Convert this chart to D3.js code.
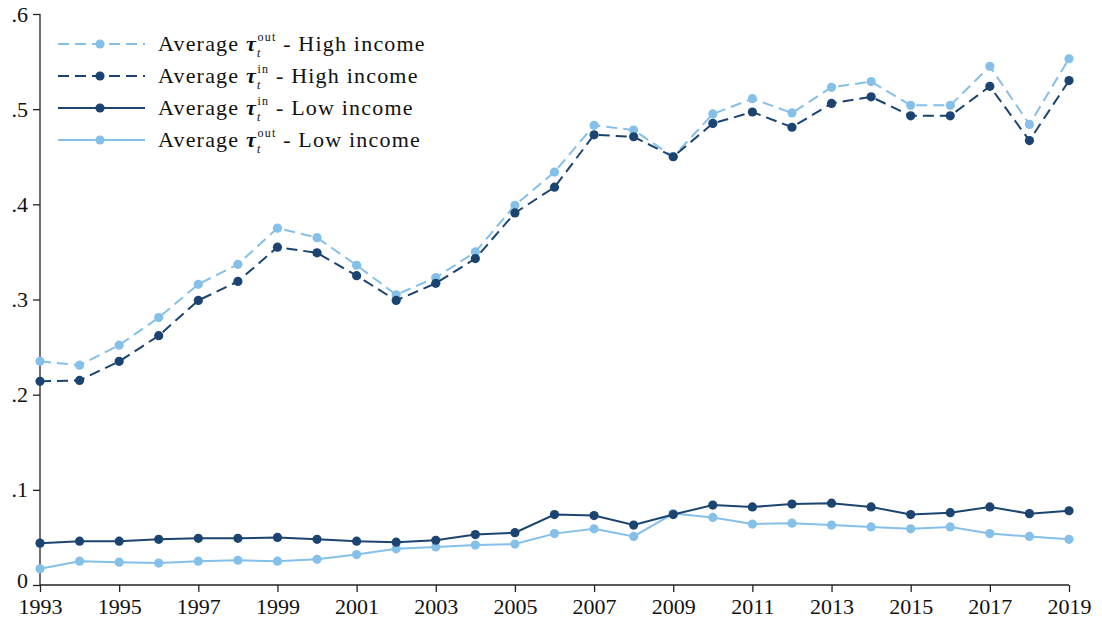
<!DOCTYPE html>
<html>
<head>
<meta charset="utf-8">
<script src="https://cdn.jsdelivr.net/npm/d3@7"></script>
<style>
  body { margin: 0; background: #fff; }
  text { font-family: "Liberation Serif", "DejaVu Serif", serif; }
</style>
</head>
<body>
<div id="vis"></div>
<script>
const FRAME_WIDTH = 1102;
const FRAME_HEIGHT = 631;
const MARGINS = {left: 40, right: 33, top: 14, bottom: 46};
const VIS_WIDTH = FRAME_WIDTH - MARGINS.left - MARGINS.right;
const VIS_HEIGHT = FRAME_HEIGHT - MARGINS.top - MARGINS.bottom;

const LIGHT = "#85c0e9";
const DARK = "#1b4470";

// data
const years = d3.range(1993, 2020);
const highOut = [.235, .231, .252, .281, .316, .337, .375, .365, .336, .305, .323, .350, .399, .434,
                 .483, .478, .450, .495, .511, .496, .523, .529, .504, .504, .545, .484, .553];
const highIn = [.214, .215, .235, .262, .299, .319, .355, .349, .325, .299, .317, .343, .391, .418,
                .473, .471, .450, .485, .497, .481, .506, .513, .493, .493, .524, .467, .530];
const lowIn = [.044, .046, .046, .048, .049, .049, .050, .048, .046, .045, .047, .053, .055, .074,
               .073, .063, .074, .084, .082, .085, .086, .082, .074, .076, .082, .075, .078];
const lowOut = [.017, .025, .024, .023, .025, .026, .025, .027, .032, .038, .040, .042, .043, .054,
                .059, .051, .075, .071, .064, .065, .063, .061, .059, .061, .054, .051, .048];
const xTicks = d3.range(1993, 2020, 2);
const yTicks = [0, .1, .2, .3, .4, .5, .6];
const yTickLabels = ["0", ".1", ".2", ".3", ".4", ".5", ".6"];

const series = [
  {sup: "out", group: "High income", values: highOut, color: LIGHT, dash: "11,6"},
  {sup: "in", group: "High income", values: highIn, color: DARK, dash: "11,6"},
  {sup: "in", group: "Low income", values: lowIn, color: DARK, dash: null},
  {sup: "out", group: "Low income", values: lowOut, color: LIGHT, dash: null}
];

const FRAME = d3.select("#vis")
  .append("svg")
  .attr("width", FRAME_WIDTH)
  .attr("height", FRAME_HEIGHT);

const X_SCALE = d3.scaleLinear().domain([1993, 2019]).range([0, VIS_WIDTH]);
const Y_SCALE = d3.scaleLinear().domain([0, .6]).range([VIS_HEIGHT, 0]);

const g = FRAME.append("g")
  .attr("transform", "translate(" + MARGINS.left + "," + MARGINS.top + ")");

// axes
const xAxis = g.append("g")
  .attr("transform", "translate(0," + VIS_HEIGHT + ")")
  .call(d3.axisBottom(X_SCALE).tickValues(xTicks).tickFormat(d3.format("d")).tickSize(7).tickPadding(6));
const yAxis = g.append("g")
  .call(d3.axisLeft(Y_SCALE).tickValues(yTicks).tickFormat((d, i) => yTickLabels[i]).tickSize(7).tickPadding(5));

[xAxis, yAxis].forEach((ax) => {
  ax.select(".domain").attr("stroke", "#222").attr("stroke-width", 1.3);
  ax.selectAll(".tick line").attr("stroke", "#222").attr("stroke-width", 1.3);
  ax.selectAll(".tick text").attr("font-size", "22px").attr("fill", "#111")
    .style("font-family", "'Liberation Serif', serif");
});
yAxis.selectAll(".domain").attr("d", "M0," + VIS_HEIGHT + "V0");
xAxis.selectAll(".domain").attr("d", "M0,0H" + VIS_WIDTH);
// lift the "0" a little so it clears the first year label
yAxis.selectAll(".tick text").filter((d) => d === 0).attr("dy", "0.1em");

const line = d3.line()
  .x((d, i) => X_SCALE(years[i]))
  .y((d) => Y_SCALE(d));

// draw back to front: low first, then high
[3, 2, 0, 1].forEach((k) => {
  const s = series[k];
  g.append("path")
    .datum(s.values)
    .attr("d", line)
    .attr("fill", "none")
    .attr("stroke", s.color)
    .attr("stroke-width", 2)
    .attr("stroke-dasharray", s.dash);
  g.selectAll(".pt" + k)
    .data(s.values)
    .enter()
    .append("circle")
    .attr("cx", (d, i) => X_SCALE(years[i]))
    .attr("cy", (d) => Y_SCALE(d))
    .attr("r", 4.6)
    .attr("fill", s.color);
});

// legend
const legend = FRAME.append("g").attr("transform", "translate(58,44)");
series.forEach((s, i) => {
  const row = legend.append("g").attr("transform", "translate(0," + (i * 32) + ")");
  row.append("line")
    .attr("x1", 0).attr("x2", 87).attr("y1", 0).attr("y2", 0)
    .attr("stroke", s.color).attr("stroke-width", 2)
    .attr("stroke-dasharray", s.dash);
  row.append("circle").attr("cx", 42).attr("cy", 0).attr("r", 4.6).attr("fill", s.color);
  const t = row.append("text")
    .attr("x", 100).attr("y", 7)
    .attr("font-size", "22px").attr("letter-spacing", "1.2px").attr("fill", "#111");
  t.append("tspan").text("Average ");
  t.append("tspan").attr("font-style", "italic").attr("font-weight", "bold").text("τ");
  t.append("tspan").attr("font-size", "12px").attr("font-style", "italic").attr("dy", 6).text("t");
  t.append("tspan").attr("font-size", "12px").attr("dx", -4).attr("dy", -16).text(s.sup);
  t.append("tspan").attr("dy", 10).text(" - " + s.group);
});
</script>
</body>
</html>
